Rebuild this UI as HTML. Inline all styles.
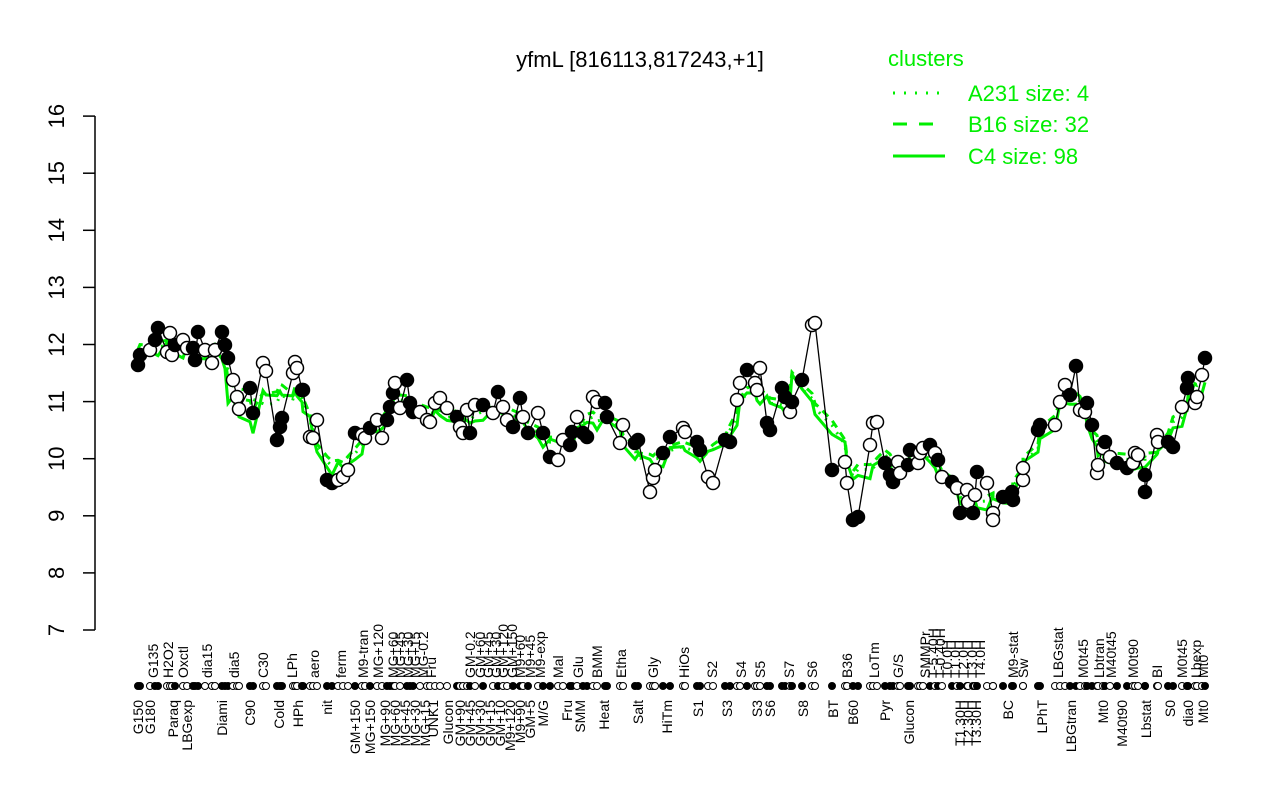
<!DOCTYPE html>
<html><head><meta charset="utf-8"><style>
html,body{margin:0;padding:0;background:#fff;}
svg{display:block;font-family:"Liberation Sans",Arial,sans-serif;}
</style></head><body>
<svg id="s" width="1280" height="800" viewBox="0 0 1280 800" xmlns="http://www.w3.org/2000/svg">
<rect width="1280" height="800" fill="#fff"/>
<text x="640" y="67" font-size="22" text-anchor="middle">yfmL [816113,817243,+1]</text>
<g fill="#00ee00" font-size="22">
<text x="888" y="66">clusters</text>
<text x="968" y="101">A231 size: 4</text>
<text x="968" y="132">B16 size: 32</text>
<text x="968" y="164">C4 size: 98</text>
</g>
<line x1="893" y1="93" x2="945" y2="93" stroke="#00ee00" stroke-width="3" stroke-dasharray="2,9"/>
<line x1="893" y1="124" x2="945" y2="124" stroke="#00ee00" stroke-width="3" stroke-dasharray="14,12"/>
<line x1="893" y1="156" x2="945" y2="156" stroke="#00ee00" stroke-width="3"/>
<line x1="95" y1="116" x2="95" y2="630" stroke="#000" stroke-width="1.5"/>
<g id="yt"></g>
<g id="plot"></g>
<g id="xl" font-size="14"></g>
</svg>
<script>
(function(){
var s='http://www.w3.org/2000/svg';
function el(p,t,a,txt){var e=document.createElementNS(s,t);for(var k in a)e.setAttribute(k,a[k]);if(txt)e.textContent=txt;document.getElementById(p).appendChild(e);return e;}
for(var v=7;v<=16;v++){var y=630-(v-7)*57.1;el('yt','line',{x1:83,x2:95,y1:y,y2:y,stroke:'#000','stroke-width':1.5});el('yt','text',{x:0,y:0,'font-size':22,'text-anchor':'middle',transform:'translate(64,'+y+') rotate(-90)'},String(v));}
var d=[[138,365,1],[140,355,1],[150,350,0],[155,340,1],[158,328,1],[167,352,0],[170,333,0],[172,355,0],[175,345,1],[183,340,0],[187,348,0],[193,348,1],[195,360,1],[198,332,1],[205,350,0],[212,363,0],[215,350,0],[222,332,1],[225,345,1],[228,358,1],[233,380,0],[237,397,0],[239,409,0],[250,388,1],[253,413,1],[263,363,0],[266,371,0],[277,440,1],[280,427,1],[282,418,1],[293,373,0],[295,362,0],[297,368,0],[302,390,1],[303,390,1],[310,437,0],[313,438,0],[317,420,0],[327,480,1],[332,483,1],[338,480,0],[343,477,0],[348,470,0],[355,433,1],[362,435,0],[365,438,0],[370,428,1],[377,420,0],[382,438,0],[387,420,1],[390,407,1],[393,393,1],[395,383,0],[400,408,0],[407,380,1],[410,403,1],[413,412,1],[420,412,0],[427,420,0],[430,422,0],[435,403,0],[440,398,0],[447,408,0],[457,417,1],[460,427,0],[463,433,0],[467,410,0],[470,433,1],[475,405,0],[483,405,1],[493,413,0],[498,392,1],[503,407,0],[507,420,0],[513,427,1],[520,398,1],[523,417,0],[528,433,1],[538,413,0],[543,433,1],[550,457,1],[558,460,0],[563,440,0],[570,445,1],[572,432,1],[577,417,0],[583,433,1],[587,437,1],[593,397,0],[597,402,0],[605,403,1],[607,417,1],[620,443,0],[623,425,0],[635,443,1],[638,440,1],[650,492,0],[653,478,0],[655,470,0],[663,453,1],[670,437,1],[683,428,0],[685,432,0],[697,442,1],[700,450,1],[708,477,0],[713,483,0],[725,440,1],[730,442,1],[737,400,0],[740,383,0],[747,370,1],[755,383,0],[757,390,0],[760,368,0],[767,423,1],[770,430,1],[782,388,1],[785,397,1],[790,412,0],[792,402,1],[802,380,1],[812,325,0],[815,323,0],[832,470,1],[845,462,0],[847,483,0],[853,520,1],[858,517,1],[870,445,0],[873,423,0],[877,422,0],[885,463,1],[890,475,1],[893,482,1],[898,462,0],[900,473,0],[908,465,1],[910,450,1],[918,463,0],[920,453,0],[923,448,0],[930,445,1],[935,453,0],[938,460,1],[942,477,0],[952,482,1],[957,488,0],[960,513,1],[967,490,0],[968,502,0],[973,513,1],[975,495,0],[977,472,1],[987,483,0],[993,513,0],[993,520,0],[1003,497,1],[1012,492,1],[1013,500,1],[1023,480,0],[1023,468,0],[1038,430,1],[1040,425,1],[1055,425,0],[1060,402,0],[1065,385,0],[1070,395,1],[1076,366,1],[1080,410,0],[1085,412,0],[1087,403,1],[1092,425,1],[1097,473,0],[1098,465,0],[1103,448,0],[1105,442,1],[1110,457,0],[1117,463,1],[1127,468,1],[1133,463,0],[1135,453,0],[1138,455,0],[1145,475,1],[1145,492,1],[1157,435,0],[1158,442,0],[1168,442,1],[1173,447,1],[1182,407,0],[1187,388,1],[1188,378,1],[1195,403,0],[1197,397,0],[1202,375,0],[1205,358,1]];
var g='',g2='',g3='';
for(var i=0;i<d.length;i++){var a=0,n=0;for(var j=Math.max(0,i-3);j<=Math.min(d.length-1,i+3);j++){a+=d[j][1];n++;}a=a/n;
var x=d[i][0];var off=(x>225&&x<260)?25:(x>260&&x<290?-10:0);
var yy=a+5+off+((i%5)-2)*3;g+=(i?'L':'M')+x+','+yy.toFixed(1);g2+=(i?'L':'M')+x+','+(a-3+off*0.6).toFixed(1);g3+=(i?'L':'M')+x+','+(a+2).toFixed(1);}
el('plot','path',{d:g3,fill:'none',stroke:'#00ee00','stroke-width':3,'stroke-dasharray':'2,7'});
el('plot','path',{d:g2,fill:'none',stroke:'#00ee00','stroke-width':3,'stroke-dasharray':'8,6'});
el('plot','path',{d:g,fill:'none',stroke:'#00ee00','stroke-width':3});
var p='';for(i=0;i<d.length;i++)p+=(i?'L':'M')+d[i][0]+','+d[i][1];
el('plot','path',{d:p,fill:'none',stroke:'#000','stroke-width':1.3});
for(i=0;i<d.length;i++)el('plot','circle',{cx:d[i][0],cy:d[i][1],r:6.5,fill:d[i][2]?'#000':'#fff',stroke:'#000','stroke-width':1.5});
for(i=0;i<d.length;i++)el('xl','circle',{cx:d[i][0],cy:686,r:3.5,fill:d[i][2]?'#000':'#fff',stroke:'#000','stroke-width':1});
var tops=[[153,'G135'],[168,'H2O2'],[183,'Oxctl'],[207,'dia15'],[234,'dia5'],[263,'C30'],[292,'LPh'],[314,'aero'],[341,'ferm'],[363,'M9-tran'],[378,'MG+120'],[393,'MG+60'],[400,'MG+45'],[408,'MG+30'],[415,'MG+15'],[423,'MG-0.2'],[431,'Fru'],[470,'GM-0.2'],[480,'GM+60'],[488,'GM+45'],[496,'GM+30'],[503,'GM+120'],[512,'GM+150'],[520,'M9+60'],[530,'M9+45'],[540,'M9-exp'],[558,'Mal'],[578,'Glu'],[597,'BMM'],[621,'Etha'],[653,'Gly'],[684,'HiOs'],[712,'S2'],[741,'S4'],[760,'S5'],[789,'S7'],[812,'S6'],[847,'B36'],[874,'LoTm'],[898,'G/S'],[925,'SMMPr'],[933,'T-5.40H'],[940,'T-0.40H'],[947,'T0.0H'],[955,'T1.0H'],[963,'T2.0H'],[972,'T3.0H'],[980,'T4.0H'],[1013,'M9-stat'],[1023,'Sw'],[1058,'LBGstat'],[1083,'M0t45'],[1099,'Lbtran'],[1111,'M40t45'],[1133,'M0t90'],[1157,'BI'],[1182,'M0t45'],[1196,'Lbexp'],[1203,'Mt0']];
var bots=[[138,'G150'],[150,'G180'],[173,'Paraq'],[187,'LBGexp'],[222,'Diami'],[250,'C90'],[279,'Cold'],[298,'HPh'],[327,'nit'],[355,'GM+150'],[370,'MG+150'],[385,'MG+90'],[395,'MG+60'],[405,'MG+45'],[415,'MG+30'],[425,'MG+15'],[433,'UNK1'],[448,'Glucon'],[460,'GM+90'],[470,'GM+45'],[480,'GM+30'],[490,'GM+15'],[500,'GM+10'],[510,'M9+120'],[520,'M9+90'],[530,'GM+5'],[543,'M/G'],[567,'Fru'],[580,'SMM'],[604,'Heat'],[638,'Salt'],[667,'HiTm'],[698,'S1'],[727,'S3'],[757,'S3'],[770,'S6'],[803,'S8'],[833,'BT'],[853,'B60'],[885,'Pyr'],[909,'Glucon'],[960,'T1.30H'],[968,'T2.30H'],[976,'T3.30H'],[1008,'BC'],[1042,'LPhT'],[1071,'LBGtran'],[1103,'Mt0'],[1122,'M40t90'],[1146,'Lbstat'],[1170,'S0'],[1188,'dia0'],[1203,'Mt0']];
tops.forEach(function(t){el('xl','text',{x:0,y:0,'text-anchor':'start',transform:'translate('+(t[0]+5)+',678) rotate(-90)'},t[1]);});
bots.forEach(function(t){el('xl','text',{x:0,y:0,'text-anchor':'end',transform:'translate('+(t[0]+5)+',700) rotate(-90)'},t[1]);});
})();
</script>
</body></html>
